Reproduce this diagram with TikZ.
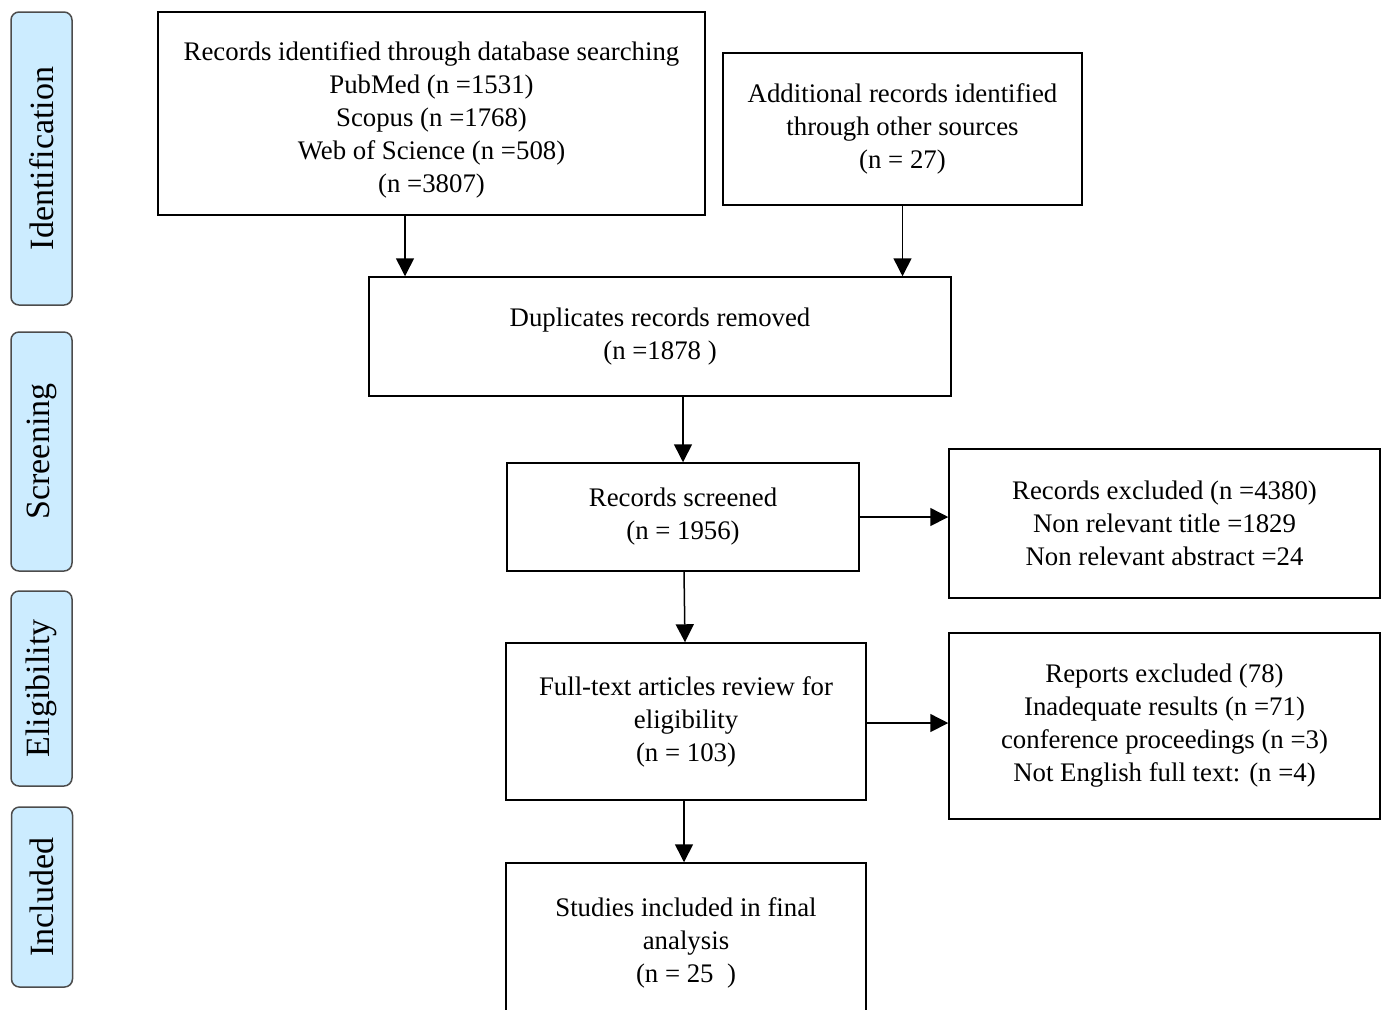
\documentclass[tikz,border=0pt]{standalone}
\usepackage{fontspec}
\setmainfont{Liberation Serif}
\usepackage{xcolor}
\usetikzlibrary{arrows.meta}
\usetikzlibrary{positioning}
\definecolor{phaseblue}{RGB}{204,236,255}
\tikzset{
  every node/.style = {font = \fontsize{13.4}{16.5}\selectfont}
}
\tikzset{
    >={Triangle[length=9pt,width=9pt]}
}
\tikzset{
  box/.style = {draw, line width=0.75pt, align=center, inner sep=0pt},
  phase/.style = {draw=black!70, line width=0.75pt, fill=phaseblue,
    rounded corners=4pt, rotate=90, inner sep=0pt,
    minimum height=30.5pt, font=\fontsize{17}{20}\selectfont}
}

\begin{document}
\begin{tikzpicture}[x=0.5pt,y=-0.5pt,line width=0.75pt]
\def\u{0.5pt}
\useasboundingbox (0,0) rectangle (1384,1009);

% Phases on the left
\node[phase, minimum width=293*\u] (ident) at (41.5,158.5) {Identification};
\node[phase, minimum width=239*\u] (screen) at (41.5,451.5) {Screening};
\node[phase, minimum width=195*\u] (elig) at (41.5,688.5) {Eligibility};
\node[phase, minimum width=180*\u] (incl) at (42,897) {Included};

% The boxes
\node[box, minimum width=547*\u, minimum height=203*\u] (dbase) at (431.5,113.5)
  {\rule{0pt}{15.5pt}Records identified through database searching\\ PubMed (n =1531)\\
   Scopus (n =1768)\\ Web of Science (n =508)\\ (n =3807)};
\node[box, minimum width=359*\u, minimum height=152*\u] (other) at (902.5,129)
  {Additional records identified\\ through other sources\\ (n = 27)};
\node[box, minimum width=582*\u, minimum height=119*\u] (dupl) at (660,336.5)
  {Duplicates records removed\\ (n =1878 )};
\node[box, minimum width=352*\u, minimum height=108*\u] (scrn) at (683,517)
  {Records screened\\ (n = 1956)};
\node[box, minimum width=431*\u, minimum height=149*\u] (excl) at (1164.5,523.5)
  {Records excluded (n =4380)\\ Non relevant title =1829\\ Non relevant abstract =24};
\node[box, minimum width=360*\u, minimum height=157*\u] (full) at (686,721.5)
  {Full-text articles review for\\ eligibility\\ (n = 103)};
\node[box, minimum width=431*\u, minimum height=186*\u] (rept) at (1164.5,726)
  {Reports excluded (78)\\ Inadequate results (n =71)\\
   conference proceedings (n =3)\\ Not English full text: (n =4)};
\node[box, minimum width=360*\u, minimum height=160*\u] (final) at (686,943)
  {Studies included in final\\ analysis\\ (n = 25~~)};

% Arrows
\draw[->] ([xshift=-26.5*\u]dbase.south) -- ([xshift=-26.5*\u]dbase.south |- dupl.north);
\draw[->] (other.south) -- (other.south |- dupl.north);
\draw[->] (dupl.south -| scrn.north) -- (scrn.north);
\draw[->] (scrn.east) -- (scrn.east -| excl.west);
\draw[->] ([xshift=1*\u]scrn.south) -- ([xshift=-1*\u]full.north);
\draw[->] ([yshift=-1.5*\u]full.east) -- ([yshift=-1.5*\u]full.east -| rept.west);
\draw[->] ([xshift=-2*\u]full.south) -- ([xshift=-2*\u]final.north);
\end{tikzpicture}
\end{document}
